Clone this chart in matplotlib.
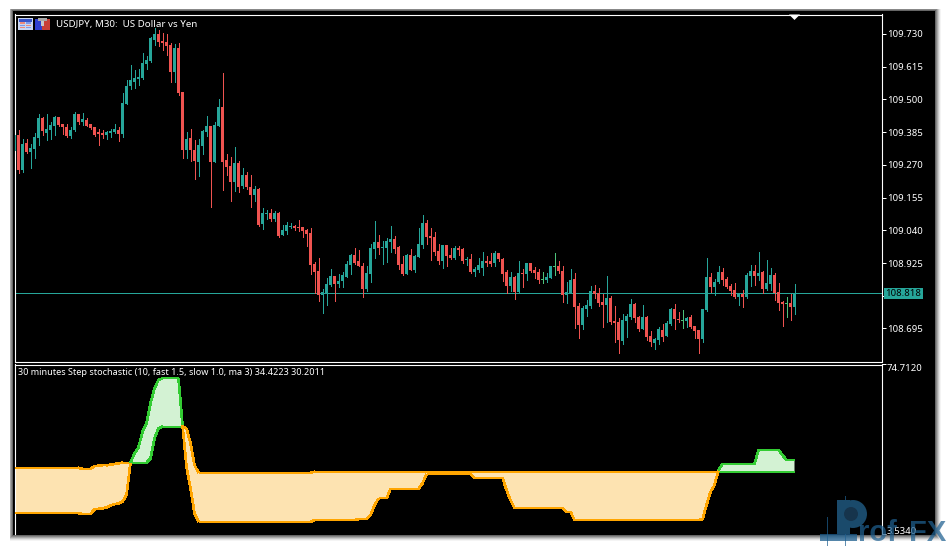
import matplotlib
matplotlib.use("Agg")
import matplotlib.pyplot as plt
import numpy as np
from matplotlib.collections import LineCollection
from matplotlib.patches import Rectangle, Polygon, Ellipse

plt.rcParams['font.family'] = ['Noto Sans', 'DejaVu Sans']

opens = [109.322,109.375,109.252,109.346,109.315,109.327,109.366,109.435,109.382,109.393,
109.407,109.438,109.413,109.403,109.372,109.393,109.448,109.421,109.428,109.413,
109.403,109.386,109.381,109.375,109.382,109.386,109.393,109.379,109.484,109.547,
109.561,109.572,109.575,109.625,109.634,109.709,109.730,109.705,109.702,109.691,
109.597,109.681,109.526,109.322,109.365,109.322,109.280,109.336,109.386,109.407,
109.280,109.407,109.474,109.287,109.266,109.210,109.277,109.196,109.235,109.192,
109.164,109.185,109.062,109.098,109.101,109.080,109.101,109.025,109.038,109.052,
109.055,109.052,109.052,109.041,109.031,108.922,108.897,108.813,108.816,108.848,
108.880,108.852,108.862,108.876,108.918,108.954,108.932,108.915,108.834,108.887,
108.975,108.999,108.978,108.978,108.999,109.010,108.982,108.922,108.887,108.954,
108.901,108.946,108.989,109.066,109.020,109.017,108.968,108.932,108.989,108.954,
108.943,108.978,108.975,108.936,108.939,108.894,108.901,108.908,108.932,108.932,
108.925,108.961,108.939,108.894,108.845,108.876,108.824,108.890,108.887,108.925,
108.901,108.894,108.866,108.866,108.873,108.911,108.915,108.897,108.813,108.820,
108.869,108.774,108.708,108.764,108.774,108.827,108.820,108.788,108.778,108.802,
108.722,108.718,108.651,108.722,108.736,108.781,108.736,108.693,108.736,108.669,
108.644,108.655,108.690,108.669,108.711,108.764,108.729,108.722,108.722,108.736,
108.704,108.690,108.658,108.760,108.876,108.841,108.859,108.894,108.869,108.845,
108.831,108.806,108.816,108.806,108.880,108.897,108.880,108.894,108.834,108.852,
108.883,108.823,108.788,108.781,108.785,108.771]

highs = [109.375,109.393,109.360,109.360,109.344,109.383,109.449,109.440,109.449,109.419,
109.442,109.440,109.414,109.413,109.402,109.456,109.449,109.451,109.434,109.414,
109.403,109.395,109.393,109.389,109.395,109.414,109.404,109.524,109.568,109.621,
109.604,109.607,109.662,109.653,109.718,109.750,109.744,109.735,109.730,109.697,
109.695,109.697,109.526,109.386,109.396,109.358,109.361,109.393,109.442,109.407,
109.421,109.502,109.592,109.308,109.299,109.333,109.284,109.259,109.245,109.235,
109.194,109.188,109.120,109.112,109.115,109.108,109.105,109.059,109.068,109.066,
109.059,109.077,109.052,109.045,109.048,108.929,108.943,108.834,108.873,108.904,
108.880,108.887,108.894,108.932,108.957,108.978,108.971,108.924,108.915,108.992,
109.073,109.024,109.003,109.013,109.055,109.020,108.985,108.950,108.957,108.975,
108.954,109.048,109.094,109.077,109.048,109.034,108.992,108.989,108.989,108.978,
108.985,108.985,108.977,108.946,108.957,108.911,108.943,108.964,108.950,108.961,
108.968,108.961,108.943,108.901,108.894,108.880,108.932,108.904,108.925,108.925,
108.911,108.904,108.894,108.889,108.915,108.961,108.932,108.915,108.859,108.904,
108.890,108.785,108.774,108.795,108.845,108.848,108.838,108.816,108.880,108.809,
108.774,108.732,108.746,108.746,108.799,108.785,108.739,108.778,108.739,108.686,
108.662,108.700,108.711,108.722,108.767,108.781,108.753,108.760,108.736,108.743,
108.704,108.690,108.764,108.943,108.890,108.869,108.915,108.908,108.877,108.852,
108.854,108.819,108.831,108.889,108.918,108.918,108.964,108.897,108.937,108.908,
108.889,108.855,108.792,108.806,108.816,108.852]

lows = [109.322,109.243,109.246,109.311,109.260,109.293,109.340,109.375,109.358,109.360,
109.375,109.407,109.379,109.369,109.366,109.390,109.414,109.409,109.407,109.395,
109.373,109.340,109.363,109.362,109.367,109.381,109.354,109.369,109.484,109.536,
109.539,109.551,109.572,109.606,109.633,109.691,109.688,109.674,109.656,109.563,
109.563,109.516,109.294,109.293,109.285,109.220,109.231,109.308,109.372,109.123,
109.279,109.407,109.182,109.235,109.143,109.178,109.176,109.188,109.185,109.123,
109.143,109.055,109.045,109.080,109.071,109.073,109.018,109.024,109.027,109.047,
109.041,109.036,109.018,108.986,108.887,108.819,108.792,108.750,108.778,108.845,
108.792,108.841,108.841,108.876,108.887,108.922,108.915,108.806,108.827,108.859,
108.943,108.957,108.922,108.929,108.964,108.961,108.904,108.883,108.887,108.901,
108.894,108.946,108.978,108.992,108.936,108.954,108.922,108.908,108.915,108.939,
108.939,108.954,108.925,108.918,108.890,108.880,108.894,108.883,108.915,108.915,
108.915,108.932,108.862,108.820,108.827,108.799,108.824,108.841,108.866,108.894,
108.873,108.855,108.855,108.859,108.873,108.883,108.890,108.788,108.785,108.820,
108.697,108.662,108.694,108.739,108.767,108.802,108.774,108.701,108.718,108.711,
108.648,108.609,108.641,108.665,108.729,108.718,108.686,108.693,108.655,108.634,
108.623,108.641,108.651,108.669,108.707,108.693,108.718,108.697,108.700,108.697,
108.662,108.609,108.648,108.757,108.823,108.813,108.854,108.848,108.836,108.813,
108.801,108.778,108.771,108.802,108.845,108.848,108.866,108.821,108.831,108.831,
108.795,108.760,108.702,108.736,108.725,108.746]

closes = [109.375,109.252,109.344,109.315,109.329,109.368,109.435,109.390,109.395,109.410,
109.438,109.410,109.403,109.372,109.393,109.449,109.421,109.431,109.407,109.399,
109.375,109.380,109.376,109.386,109.389,109.395,109.379,109.488,109.547,109.567,
109.575,109.579,109.628,109.639,109.716,109.730,109.702,109.698,109.688,109.597,
109.681,109.523,109.322,109.361,109.322,109.283,109.340,109.389,109.407,109.280,
109.410,109.474,109.280,109.263,109.210,109.277,109.192,109.235,109.192,109.164,
109.185,109.059,109.101,109.101,109.080,109.101,109.020,109.041,109.059,109.055,
109.047,109.048,109.038,109.027,108.918,108.894,108.813,108.824,108.852,108.880,
108.852,108.862,108.883,108.922,108.954,108.925,108.915,108.834,108.890,108.978,
108.999,108.978,108.982,109.003,109.010,108.975,108.918,108.887,108.954,108.901,
108.950,108.992,109.066,109.017,109.013,108.964,108.932,108.989,108.950,108.943,
108.978,108.971,108.932,108.939,108.894,108.904,108.918,108.932,108.925,108.922,
108.961,108.939,108.887,108.845,108.876,108.824,108.890,108.887,108.925,108.897,
108.890,108.866,108.869,108.876,108.915,108.915,108.897,108.813,108.824,108.866,
108.771,108.708,108.767,108.778,108.827,108.816,108.785,108.778,108.802,108.718,
108.715,108.655,108.725,108.739,108.781,108.732,108.693,108.736,108.665,108.648,
108.658,108.693,108.665,108.714,108.764,108.729,108.725,108.725,108.732,108.700,
108.686,108.658,108.764,108.876,108.841,108.858,108.894,108.866,108.841,108.827,
108.806,108.816,108.806,108.883,108.897,108.880,108.890,108.834,108.855,108.883,
108.820,108.785,108.781,108.785,108.771,108.818]

light_bars = [132, 135, 167, 193]
price_ticks = [109.730,109.615,109.500,109.385,109.270,109.155,109.040,108.925,108.810,108.695]

fast_line = [12.33,12.33,12.33,12.33,12.33,12.33,12.33,12.33,12.33,12.33,
12.33,12.33,12.33,12.33,12.33,12.33,12.33,11.92,11.92,11.92,
13.89,14.11,14.30,14.72,15.46,16.12,16.33,17.09,19.90,33.53,
37.41,39.91,46.47,50.01,58.40,64.72,68.21,68.91,68.91,68.91,
68.91,68.91,49.27,31.79,22.71,12.21,8.68,8.68,8.68,8.68,
8.68,8.68,8.68,8.68,8.68,8.68,8.68,8.68,8.68,8.68,
8.68,8.68,8.68,8.68,8.68,8.68,8.68,8.68,8.68,8.68,
8.68,8.68,8.68,8.68,8.68,9.40,9.40,9.40,9.40,9.40,
9.40,9.40,9.40,9.40,9.40,9.40,9.82,9.82,9.82,11.50,
15.66,18.46,18.46,18.46,22.42,22.42,22.42,22.42,22.42,22.42,
22.42,22.42,24.83,28.60,28.60,28.60,28.60,28.60,28.60,28.60,
28.60,28.60,28.60,28.60,28.60,27.15,27.15,27.15,27.15,27.15,
27.15,27.15,27.15,22.03,17.78,14.45,14.45,14.45,14.45,14.45,
14.45,14.45,14.45,14.45,14.45,14.45,14.45,14.45,12.86,12.86,
9.40,9.40,9.40,9.40,9.40,9.40,9.40,9.40,9.40,9.40,
9.40,9.40,9.40,9.40,9.40,9.40,9.40,9.40,9.40,9.40,
9.40,9.40,9.40,9.40,9.40,9.40,9.40,9.40,9.40,9.40,
9.40,9.40,9.70,15.66,21.26,24.06,30.44,32.92,32.92,32.92,
32.92,32.92,32.92,32.92,32.92,32.92,38.80,38.80,38.80,38.80,
38.80,38.80,36.72,34.4223,34.4223,34.4223]

slow_line = [31.37,31.37,31.37,31.37,31.37,31.37,31.37,31.37,31.37,31.37,
31.37,31.37,31.37,31.37,31.37,31.37,31.37,30.82,30.82,30.82,
32.08,32.18,32.37,32.37,32.66,32.92,33.24,33.48,33.48,33.48,
33.48,33.48,33.48,33.48,35.31,43.72,47.92,48.60,48.60,48.60,
48.60,48.60,48.60,47.92,41.61,32.50,29.28,29.28,29.28,29.28,
29.28,29.28,29.28,29.28,29.28,29.28,29.28,29.28,29.28,29.28,
29.28,29.28,29.28,29.28,29.28,29.28,29.28,29.28,29.28,29.28,
29.28,29.28,29.28,29.28,29.28,29.66,29.66,29.66,29.66,29.66,
29.66,29.66,29.66,29.66,29.66,29.66,29.66,29.66,29.66,29.66,
29.66,29.66,29.66,29.66,29.66,29.66,29.66,29.66,29.66,29.66,
29.66,29.66,29.66,29.66,29.66,29.66,29.66,29.66,29.66,29.66,
29.66,29.66,29.66,29.66,29.66,29.66,29.66,29.66,29.66,29.66,
29.66,29.66,29.66,29.66,29.66,29.66,29.66,29.66,29.66,29.66,
29.66,29.66,29.66,29.66,29.66,29.66,29.66,29.66,29.66,29.66,
29.66,29.66,29.66,29.66,29.66,29.66,29.66,29.66,29.66,29.66,
29.66,29.66,29.66,29.66,29.66,29.66,29.66,29.66,29.66,29.66,
29.66,29.66,29.66,29.66,29.66,29.66,29.66,29.66,29.66,29.66,
29.66,29.66,29.66,29.66,29.66,29.66,29.66,29.66,29.66,29.66,
29.66,29.66,29.66,29.66,29.66,29.66,29.66,29.66,29.66,29.66,
29.66,29.66,29.66,29.66,29.66,29.66]

indicator_ticks = [74.7120, 3.5340]
chart_title = "USDJPY, M30:  US Dollar vs Yen"
indicator_title = "30 minutes Step stochastic (10, fast 1.5, slow 1.0, ma 3) 34.4223 30.2011"

W, H = 947, 546
UP, DOWN, LIGHT = '#26a69a', '#ef5350', '#4cc27a'
GREEN, ORANGE, GFILL, OFILL = '#33cc33', '#ffa500', '#d3f2d3', '#fde3b1'

fig = plt.figure(figsize=(W/100, H/100), dpi=100, facecolor='white')

def px_rect(x0, y0, x1, y1, color, z=-5, alpha=1.0):
    p = Rectangle((x0/W, 1-y1/H), (x1-x0)/W, (y1-y0)/H, transform=fig.transFigure,
                  facecolor=color, edgecolor='none', alpha=alpha, zorder=z, antialiased=False)
    fig.add_artist(p)
    return p

def px_axes(x0, y0, x1, y1):
    return fig.add_axes([x0/W, 1-y1/H, (x1-x0)/W, (y1-y0)/H], facecolor='black', zorder=2)

# window frame and its drop shadow
for n, (d, col) in enumerate(zip([6, 5, 4, 3, 2, 1], ['#f4f4f4', '#e2e2e2', '#c8c8c8', '#a8a8a8', '#888888', '#666666'])):
    px_rect(13-min(d, 3), 11-min(d, 2), 935+d, 535+d, col, z=-6+n*0.1)
px_rect(13, 11, 935, 535, 'black', z=-4)

x = np.arange(len(opens))
o, h, l, c = map(np.array, (opens, highs, lows, closes))
colors = [LIGHT if i in light_bars else (UP if c[i] >= o[i] else DOWN) for i in x]

# price panel
ax = px_axes(14.5, 14.5, 881.5, 361.5)
k = 1/284.5
ax.set_ylim(109.730-(361.5-34)*k, 109.730+(34-14.5)*k)
ax.set_xlim(0, (881.5-14.5)/4)
ax.vlines(x, l, h, colors=colors, linewidth=0.72, antialiased=False, zorder=3)
ax.bar(x, np.abs(c-o), bottom=np.minimum(o, c), width=0.85, color=colors, linewidth=0,
       antialiased=False, zorder=4)
ax.axhline(closes[-1], color=UP, linewidth=0.72, zorder=2, antialiased=False)
ax.set_yticks(price_ticks)
ax.set_yticklabels([f"{v:.3f}" for v in price_ticks])

# indicator panel
ax2 = px_axes(14.5, 364.5, 881.5, 534)
ax2.set_ylim(3.5340, 74.7120)
ax2.set_xlim(ax.get_xlim())
fa, sl = np.array(fast_line), np.array(slow_line)
ax2.fill_between(x, fa, sl, where=fa >= sl, interpolate=True, facecolor=GFILL, linewidth=0, zorder=2)
ax2.fill_between(x, fa, sl, where=fa <= sl, interpolate=True, facecolor=OFILL, linewidth=0, zorder=2)
up_seg = (fa[:-1]+fa[1:]) > (sl[:-1]+sl[1:])
seg_col = [GREEN if u else ORANGE for u in up_seg]
for series in (sl, fa):
    pts = np.column_stack([x, series])
    segs = np.stack([pts[:-1], pts[1:]], axis=1)
    ax2.add_collection(LineCollection(segs, colors=seg_col, linewidths=1.2, zorder=3,
                                      antialiased=False, capstyle='butt'))
ax2.set_yticks(indicator_ticks)
ax2.set_yticklabels([])
for v, dy in zip(indicator_ticks, [-2.6, 1.7]):
    ax2.annotate(f"{v:.4f}", xy=(1, v), xycoords=ax2.get_yaxis_transform(), xytext=(3.6, dy),
                 textcoords='offset points', va='center', ha='left', color='white', fontsize=6.9,
                 annotation_clip=False, zorder=6)

for a in (ax, ax2):
    a.set_xticks([])
    a.yaxis.tick_right()
    a.tick_params(axis='y', colors='white', length=3, width=0.72, pad=0.7, labelsize=6.9, right=True)
    for s in a.spines.values():
        s.set_color('white')
        s.set_linewidth(0.8)
ax2.spines['bottom'].set_visible(False)

# headers
fig.text(56/W, 1-24.5/H, chart_title, color='white', fontsize=7.0, va='center', ha='left', zorder=6)
fig.text(17.5/W, 1-372.5/H, indicator_title, color='white', fontsize=6.55, va='center', ha='left', zorder=6)

# current price label
px_rect(884, 288, 923, 299, UP, z=6)
fig.text(903.5/W, 1-293.5/H, f"{closes[-1]:.3f}", color='black', fontsize=6.9, va='center', ha='center', zorder=7)

# shift marker triangle
fig.add_artist(Polygon([[789/W, 1-14.5/H], [800/W, 1-14.5/H], [794.5/W, 1-20/H]], closed=True,
                       transform=fig.transFigure, facecolor='white', edgecolor='none', zorder=6))

# toolbar icons
px_rect(18, 18, 33, 30, '#c9d6f2', z=6)
px_rect(19, 19, 32, 21.5, '#3a55c8', z=7)
for yy, cc, c2 in zip([22.5, 24.5, 26.5], ['#ee8a78', '#7f9be8', '#ee8a78'], ['#7f9be8', '#ee8a78', '#7f9be8']):
    px_rect(20, yy, 25, yy+1.2, cc, z=7)
    px_rect(26, yy, 31, yy+1.2, c2, z=7)
px_rect(35, 19, 42, 30, '#3040d0', z=6)
px_rect(42, 19, 50, 30, '#c84038', z=6)
px_rect(38, 18, 47, 21, '#a8a8a8', z=7)
px_rect(41, 21, 44, 26, '#c8c8c8', z=7)

# watermark
wm = '#1f6090'
px_rect(820, 534, 857, 541, wm, z=8, alpha=0.75)
px_rect(827.3, 517, 828.3, 546, wm, z=8, alpha=0.7)
px_rect(844.5, 496, 845.5, 546, wm, z=8, alpha=0.7)
px_rect(837, 500, 850, 534, '#1a4a6b', z=8)
fig.add_artist(Ellipse((853/W, 1-514/H), 28/W, 28/H, transform=fig.transFigure,
                       facecolor='#1a4a6b', edgecolor='none', zorder=8))
fig.add_artist(Ellipse((851/W, 1-514/H), 14/W, 14/H, transform=fig.transFigure,
                       facecolor='#16344c', edgecolor='none', zorder=8))
fig.text(858/W, 1-541/H, "rof", color=wm, alpha=0.72, fontsize=21, fontweight='bold',
         family='Liberation Sans', va='baseline', ha='left', zorder=9)
fig.text(909/W, 1-541/H, "FX", color=wm, alpha=0.72, fontsize=21, fontweight='bold',
         family='Liberation Sans', va='baseline', ha='left', zorder=9)

fig.savefig('out.png', dpi=100, facecolor='white')
